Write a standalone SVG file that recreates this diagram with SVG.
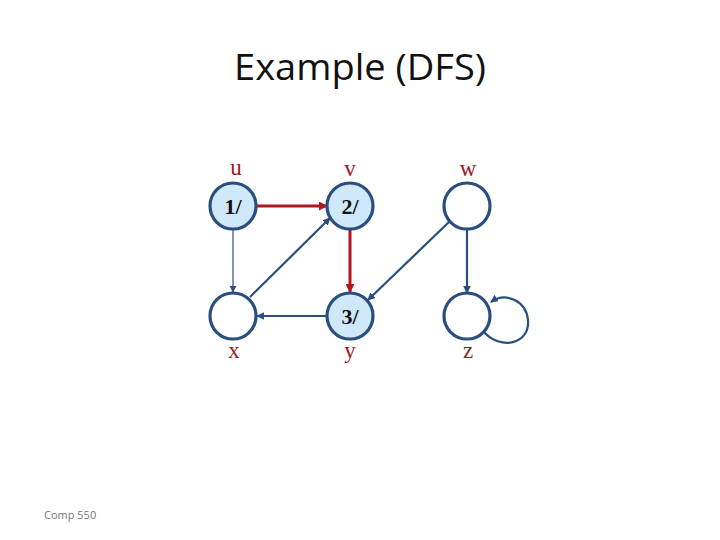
<svg xmlns="http://www.w3.org/2000/svg" width="720" height="540" viewBox="0 0 720 540">
<style>
.node{stroke:#2a4f7f;stroke-width:3.2}
.lbl{font-family:"Liberation Serif",serif;font-size:23px;fill:#a0181c;text-anchor:middle}
.num{font-family:"Liberation Serif",serif;font-size:22px;font-weight:bold;fill:#111;text-anchor:middle}
.e{fill:none;stroke:#2a4f7f;stroke-width:2.2}
.t{fill:none;stroke:#2a4f7f;stroke-width:1.2}
.r{fill:none;stroke:#b0161c;stroke-width:3}
</style>
<defs>
<marker id="ab" viewBox="0 0 10 10" refX="9" refY="5" markerWidth="3.5" markerHeight="3.5" markerUnits="strokeWidth" orient="auto"><path d="M0,0 L10,5 L0,10 z" fill="#2a4f7f"/></marker>
<marker id="abt" viewBox="0 0 10 10" refX="9" refY="5" markerWidth="6" markerHeight="6" markerUnits="strokeWidth" orient="auto"><path d="M0,0 L10,5 L0,10 z" fill="#2a4f7f"/></marker>
<marker id="ar" viewBox="0 0 10 10" refX="9" refY="5" markerWidth="3" markerHeight="3" markerUnits="strokeWidth" orient="auto"><path d="M0,0 L10,5 L0,10 z" fill="#b0161c"/></marker>
</defs>
<rect width="720" height="540" fill="#fff"/>
<text x="360" y="80" font-family="'Open Sans',sans-serif" font-size="36" text-anchor="middle" textLength="252" lengthAdjust="spacingAndGlyphs" fill="#111">Example (DFS)</text>
<g id="edges">
<line class="r" x1="257" y1="206" x2="327" y2="206" marker-end="url(#ar)"/>
<line class="t" x1="233" y1="229" x2="233" y2="292" marker-end="url(#abt)"/>
<line class="e" x1="250" y1="297" x2="330" y2="218" marker-end="url(#ab)"/>
<line class="r" x1="350" y1="229" x2="350" y2="292" marker-end="url(#ar)"/>
<line class="e" x1="327" y1="316" x2="257" y2="316" marker-end="url(#ab)"/>
<line class="e" x1="450" y1="221" x2="368" y2="300" marker-end="url(#ab)"/>
<line class="e" x1="467" y1="229" x2="467" y2="293" marker-end="url(#ab)"/>
<path class="e" d="M484,332 C500,350 530,345 528,320 C526,300 505,292 491,302" marker-end="url(#ab)"/>
</g>
<g id="u"><circle class="node" cx="233" cy="206" r="23" fill="#cfe9fb"/><text class="num" x="233" y="214">1/</text><text class="lbl" x="236" y="175">u</text></g>
<g id="v"><circle class="node" cx="350" cy="206" r="23" fill="#cfe9fb"/><text class="num" x="350" y="214">2/</text><text class="lbl" x="350" y="176">v</text></g>
<g id="w"><circle class="node" cx="467" cy="206" r="23" fill="#fff"/><text class="lbl" x="468" y="176">w</text></g>
<g id="x"><circle class="node" cx="233" cy="316" r="23" fill="#fff"/><text class="lbl" x="234" y="358">x</text></g>
<g id="y"><circle class="node" cx="350" cy="316" r="23" fill="#cfe9fb"/><text class="num" x="350" y="324">3/</text><text class="lbl" x="350" y="358">y</text></g>
<g id="z"><circle class="node" cx="467" cy="316" r="23" fill="#fff"/><text class="lbl" x="468" y="358">z</text></g>
<text x="44" y="519" font-family="'Open Sans',sans-serif" font-size="11" fill="#777">Comp 550</text>
</svg>
